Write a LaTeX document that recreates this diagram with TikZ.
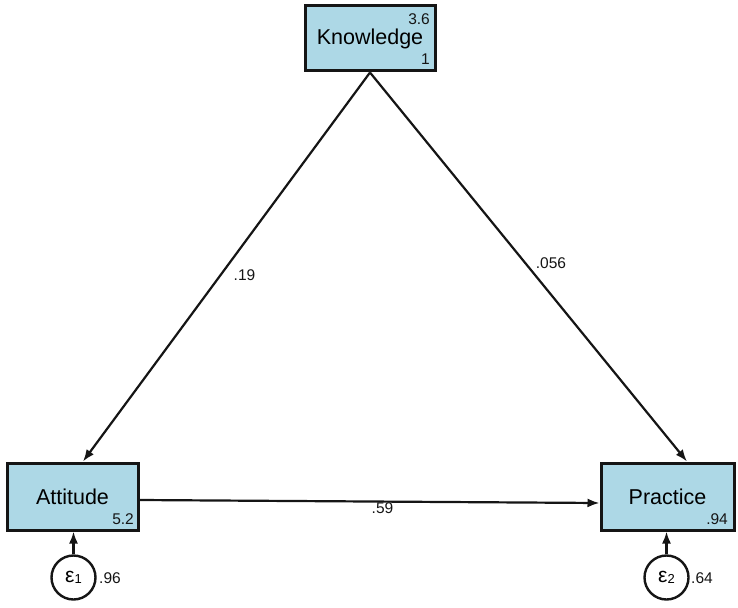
\documentclass[tikz,border=0pt]{standalone}
\usepackage{fontspec}
\setmainfont{Liberation Sans}
\usetikzlibrary{arrows.meta}
\definecolor{boxfill}{HTML}{ADD8E6}
\definecolor{ink}{HTML}{151515}
\tikzset{
  varbox/.style={draw=ink, line width=3pt, fill=boxfill, inner sep=0pt, font=\fontsize{21.5}{21.5}\selectfont},
  errc/.style={draw=ink, line width=2.4pt, fill=white, circle, minimum size=44pt, inner sep=0pt},
  path/.style={draw=ink, line width=2.2pt, -{Latex[length=12pt,width=9pt]}},
  small/.style={font=\fontsize{15.5}{15.5}\selectfont, inner sep=0pt, text=ink}
}
\begin{document}
\begin{tikzpicture}[x=1pt,y=-1pt]
\useasboundingbox (0,0) rectangle (738,607);
\node[varbox, minimum width=130pt, minimum height=65pt] (K) at (370,38.5) {\raisebox{-2pt}{Knowledge}};
\node[varbox, minimum width=131pt, minimum height=67pt] (A) at (72.5,496.5) {Attitude};
\node[varbox, minimum width=133pt, minimum height=67pt] (P) at (667.5,496.5) {Practice};
\node[errc] (E1) at (73.5,577.5) {\fontsize{21}{21}\selectfont ε\raisebox{-1.5pt}{\fontsize{13}{13}\selectfont 1}};
\node[errc] (E2) at (666.5,577.5) {\fontsize{21}{21}\selectfont ε\raisebox{-1.5pt}{\fontsize{13}{13}\selectfont 2}};
% small labels
\node[small, anchor=base east] (k1) at (430,25) {3.6};
\node[small, anchor=base east] (k2) at (430,65) {1};
\node[small, anchor=base east] (a1) at (134,524) {5.2};
\node[small, anchor=base east] (p1) at (728,524) {.94};
\node[small, anchor=base west] (e1) at (99,583) {.96};
\node[small, anchor=base west] (e2) at (691,583) {.64};
% paths
\draw[path] (K.south) -- ([xshift=10.5pt]A.north);
\draw[path] (K.south) -- ([xshift=19.5pt]P.north);
\draw[path] ([yshift=-3.5pt]A.east) -- ([yshift=-6.5pt]P.west);
\draw[path] (E1) -- (E1 |- A.south);
\draw[path] (E2) -- (E2 |- P.south);
% edge labels
\node[small, anchor=base] (l1) at (244.5,280) {.19};
\node[small, anchor=base] (l2) at (551,268) {.056};
\node[small, anchor=base] (l3) at (382.5,513) {.59};
\end{tikzpicture}
\end{document}
